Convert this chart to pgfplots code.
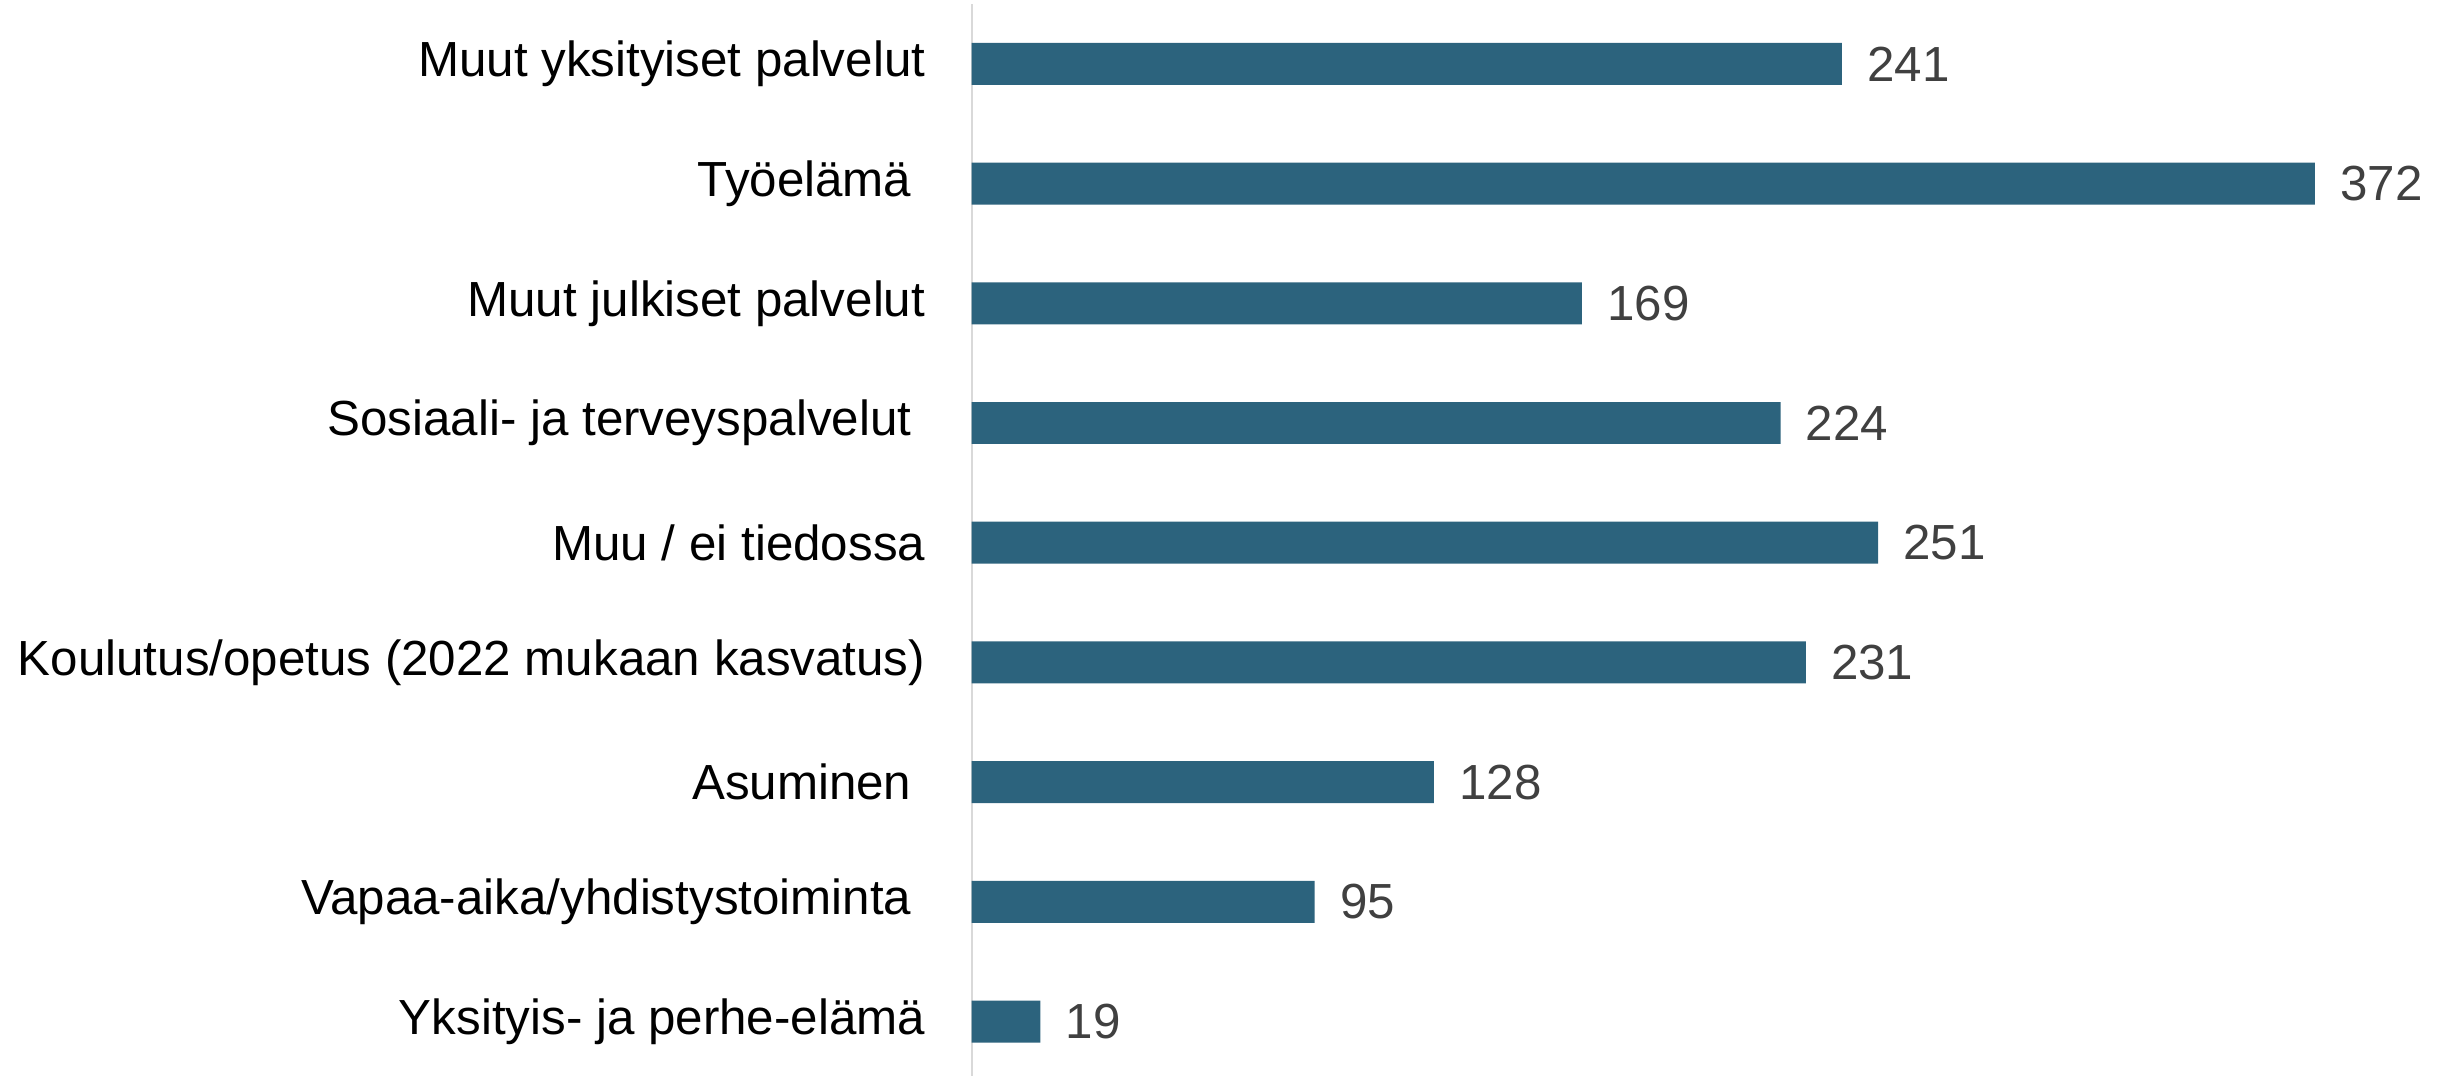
\documentclass[border=0pt]{standalone}
\usepackage{pgfplots}
\pgfplotsset{compat=1.18}
\usepackage{fontspec}
\setmainfont{Liberation Sans}
\definecolor{barc}{HTML}{2C637D}
\definecolor{valc}{HTML}{404040}
\definecolor{axc}{HTML}{D9D9D9}
\begin{document}
\begin{tikzpicture}
\begin{axis}[
  name=ax,
  scale only axis,
  width=595pt, height=433.7pt,
  xbar, bar width=16.9pt,
  xmin=0, xmax=409.4,
  ymin=-0.5, ymax=8.5,
  axis y line*=left,
  axis x line=none,
  y axis line style={draw=axc, line width=0.8pt},
  xtick=\empty,
  ytick={0,...,8},
  yticklabels={Yksityis- ja perhe-elämä,Vapaa-aika/yhdistystoiminta\kern0.28em,Asuminen\kern0.28em,Koulutus/opetus (2022 mukaan kasvatus),Muu / ei tiedossa,Sosiaali- ja terveyspalvelut\kern0.28em,Muut julkiset palvelut,Työelämä\kern0.28em,Muut yksityiset palvelut},
  major tick length=0pt,
  /pgf/number format/assume math mode=true,
  yticklabel style={font=\fontsize{19.85}{24}\selectfont, text=black, inner sep=0pt, xshift=-18.5pt},
  nodes near coords,
  every node near coord/.append style={font=\fontsize{19.85}{24}\selectfont, text=valc, anchor=west, inner sep=0pt, xshift=10pt},
  clip=false,
]
\addplot[fill=barc, draw=none] coordinates {
(19,0) (95,1) (128,2) (231,3) (251,4) (224,5) (169,6) (372,7) (241,8)
};
\end{axis}
\pgfresetboundingbox
\path ([xshift=-391.1pt, yshift=-431.4pt]ax.north west) rectangle ([yshift=1.6pt]ax.north east);
\end{tikzpicture}
\end{document}
